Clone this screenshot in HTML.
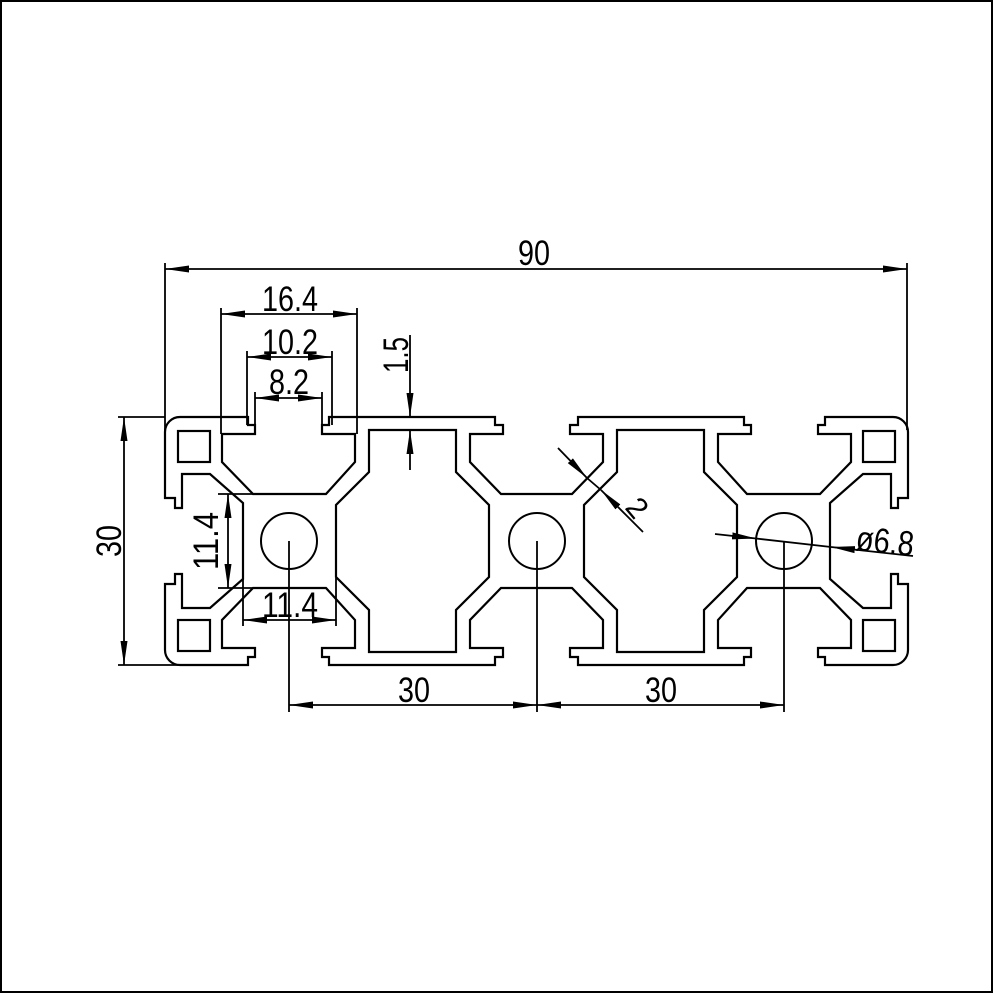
<!DOCTYPE html>
<html><head><meta charset="utf-8"><style>html,body{margin:0;padding:0;background:#fff}svg{display:block}</style></head>
<body>
<svg width="993" height="993" viewBox="0 0 993 993" xmlns="http://www.w3.org/2000/svg">
<defs>
<marker id="a" viewBox="0 0 24 9" refX="24" refY="4.5" markerWidth="24" markerHeight="9" markerUnits="userSpaceOnUse" orient="auto-start-reverse">
<path d="M0,1 L24,4.5 L0,8 z" fill="#000"/>
</marker>
<g id="top" fill="none" stroke="#000" stroke-width="2.2" stroke-linejoin="miter">
<path d="M243,541 L243,503 L210,474 L182,474 L182,508 L175,508 L175,498 L165,498 L165,432 A15,15 0 0 1 180,417 L248,417 L248,425 L255,425 L255,434 L222,434 L222,462 L253,494 L326,494 L355,462 L355,434 L322,434 L322,425 L329,425 L329,417 L495,417 L495,425 L503,425 L503,434 L470,434 L470,462 L501,494 L572,494 L603,462 L603,434 L570,434 L570,425 L578,425 L578,417 L744,417 L744,425 L751,425 L751,434 L718,434 L718,462 L747,494 L820,494 L851,462 L851,434 L818,434 L818,425 L825,425 L825,417 L893,417 A15,15 0 0 1 908,432 L908,498 L898,498 L898,508 L891,508 L891,474 L863,474 L830,503 L830,541"/>
<path d="M336,541 L336,505 L369,472 L369,430 L456,430 L456,472 L489,505 L489,541"/>
<path d="M584,541 L584,505 L617,472 L617,430 L704,430 L704,472 L737,505 L737,541"/>
<rect x="178" y="431" width="32" height="31"/>
<rect x="863" y="431" width="32" height="31"/>
</g>
</defs>
<rect x="1" y="1" width="991" height="991" fill="#fff" stroke="#000" stroke-width="2"/>
<use href="#top"/>
<use href="#top" transform="matrix(1,0,0,-1,0,1082)"/>
<g fill="none" stroke="#000" stroke-width="2">
<circle cx="289" cy="541" r="28"/>
<circle cx="537" cy="541" r="28"/>
<circle cx="784" cy="541" r="28"/>
</g>
<g fill="none" stroke="#000" stroke-width="1.8">
<line x1="165" y1="269" x2="907" y2="269" marker-start="url(#a)" marker-end="url(#a)"/>
<line x1="165" y1="263" x2="165" y2="432"/>
<line x1="907" y1="263" x2="907" y2="430"/>
<line x1="221" y1="314" x2="357" y2="314" marker-start="url(#a)" marker-end="url(#a)"/>
<line x1="221" y1="308" x2="221" y2="434"/>
<line x1="357" y1="308" x2="357" y2="434"/>
<line x1="247" y1="357" x2="332" y2="357" marker-start="url(#a)" marker-end="url(#a)"/>
<line x1="247" y1="351" x2="247" y2="425"/>
<line x1="332" y1="351" x2="332" y2="425"/>
<line x1="255" y1="398" x2="322" y2="398" marker-start="url(#a)" marker-end="url(#a)"/>
<line x1="255" y1="392" x2="255" y2="434"/>
<line x1="322" y1="392" x2="322" y2="434"/>
<line x1="410" y1="335" x2="410" y2="417" marker-end="url(#a)"/>
<line x1="410" y1="470" x2="410" y2="430" marker-end="url(#a)"/>
<line x1="124" y1="417" x2="124" y2="665" marker-start="url(#a)" marker-end="url(#a)"/>
<line x1="118" y1="417" x2="165" y2="417"/>
<line x1="118" y1="665" x2="180" y2="665"/>
<line x1="228" y1="494" x2="228" y2="588" marker-start="url(#a)" marker-end="url(#a)"/>
<line x1="218" y1="494" x2="253" y2="494"/>
<line x1="218" y1="588" x2="253" y2="588"/>
<line x1="243" y1="620" x2="336" y2="620" marker-start="url(#a)" marker-end="url(#a)"/>
<line x1="243" y1="578" x2="243" y2="626"/>
<line x1="336" y1="578" x2="336" y2="626"/>
<line x1="289" y1="705" x2="537" y2="705" marker-start="url(#a)" marker-end="url(#a)"/>
<line x1="537" y1="705" x2="784" y2="705" marker-start="url(#a)" marker-end="url(#a)"/>
<line x1="289" y1="541" x2="289" y2="712"/>
<line x1="537" y1="541" x2="537" y2="712"/>
<line x1="784" y1="541" x2="784" y2="712"/>
<line x1="558" y1="448" x2="587" y2="478" marker-end="url(#a)"/>
<line x1="643" y1="532" x2="601" y2="490" marker-end="url(#a)"/>
<line x1="587" y1="478" x2="601" y2="490"/>
<line x1="715" y1="534" x2="756" y2="538.5" marker-end="url(#a)"/>
<line x1="913" y1="556" x2="831" y2="547" marker-end="url(#a)"/>
<line x1="756" y1="538.5" x2="831" y2="547"/>
</g>
<g font-family="Liberation Sans, sans-serif" font-size="35" fill="#000">
<text x="518" y="265" textLength="32" lengthAdjust="spacingAndGlyphs">90</text>
<text x="262" y="311" textLength="56" lengthAdjust="spacingAndGlyphs">16.4</text>
<text x="262" y="354" textLength="56" lengthAdjust="spacingAndGlyphs">10.2</text>
<text x="269" y="394" textLength="40" lengthAdjust="spacingAndGlyphs">8.2</text>
<text x="262" y="617" textLength="56" lengthAdjust="spacingAndGlyphs">11.4</text>
<text x="398" y="702" textLength="32" lengthAdjust="spacingAndGlyphs">30</text>
<text x="645" y="702" textLength="32" lengthAdjust="spacingAndGlyphs">30</text>
<text transform="translate(121,557) rotate(-90)" textLength="32" lengthAdjust="spacingAndGlyphs">30</text>
<text transform="translate(218,570) rotate(-90)" textLength="58" lengthAdjust="spacingAndGlyphs">11.4</text>
<text transform="translate(408,373) rotate(-90)" textLength="36" lengthAdjust="spacingAndGlyphs">1.5</text>
<text transform="translate(624,508) rotate(50)" font-size="30">2</text>
<text transform="translate(855,550) rotate(6)" textLength="58" lengthAdjust="spacingAndGlyphs">ø6.8</text>
</g>
</svg>
</body></html>
